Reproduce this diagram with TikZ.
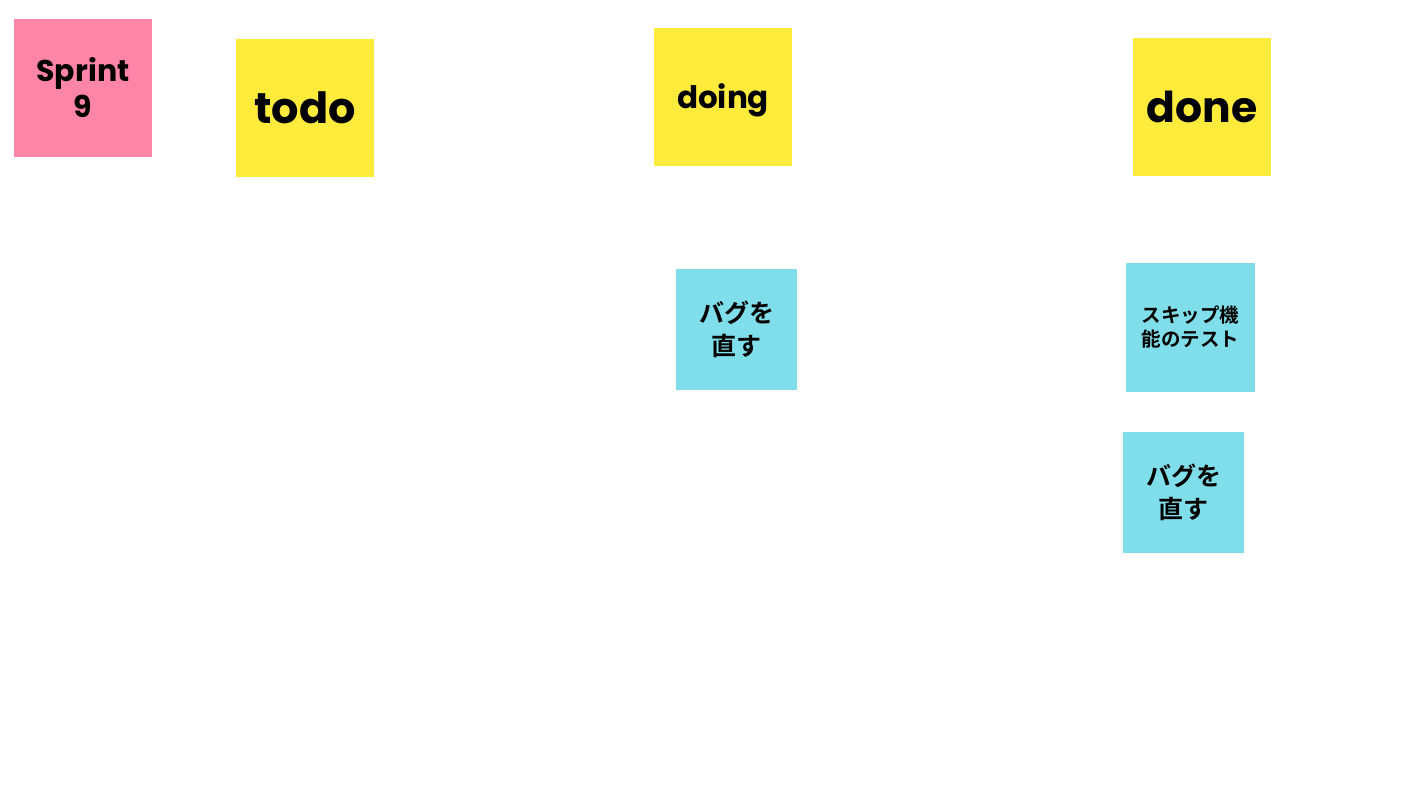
\documentclass[tikz,border=0pt]{standalone}
\usepackage{fontspec}
\setmainfont{Poppins}[BoldFont={* Bold}]
\newfontfamily\jp{Noto Sans CJK JP}[BoldFont={* Bold}]
\definecolor{pinknote}{HTML}{FF85A8}
\definecolor{yellownote}{HTML}{FFEB3B}
\definecolor{cyannote}{HTML}{80DEEA}
\tikzset{
  note/.style={inner sep=0pt, align=center, font=\bfseries, text=black},
}
\begin{document}
\begin{tikzpicture}[x=1pt,y=-1pt]
\useasboundingbox (0,0) rectangle (1422,800);
\fill[white] (0,0) rectangle (1422,800);
% notes
\node[note, fill=pinknote, minimum width=138pt, minimum height=138pt, font=\fontsize{30}{36}\selectfont\bfseries] (sprint) at (83,88) {Sprint\\9};
\node[note, fill=yellownote, minimum width=138pt, minimum height=138pt, font=\fontsize{43}{50}\selectfont\bfseries] (todo) at (305,108) {todo};
\node[note, fill=yellownote, minimum width=138pt, minimum height=138pt] (doing) at (723,97) {};
\node[font=\fontsize{31}{36}\selectfont\bfseries, inner sep=0pt] (doingtxt) at ([yshift=-3pt]doing.center) {doing};
\node[note, fill=yellownote, minimum width=138pt, minimum height=138pt, font=\fontsize{42.5}{50}\selectfont\bfseries] (done) at (1202,107) {done};
\node[note, fill=cyannote, minimum width=121pt, minimum height=121pt, font=\jp\fontsize{25}{33}\selectfont\bfseries] (bug1) at (736.5,329.5) {バグを\\直す};
\node[note, fill=cyannote, minimum width=129pt, minimum height=129pt, font=\jp\fontsize{19.5}{24}\selectfont\bfseries] (skip) at (1190.5,327.5) {スキップ機\\能のテスト};
\node[note, fill=cyannote, minimum width=121pt, minimum height=121pt, font=\jp\fontsize{25}{33}\selectfont\bfseries] (bug2) at (1183.5,492.5) {バグを\\直す};
\end{tikzpicture}
\end{document}
